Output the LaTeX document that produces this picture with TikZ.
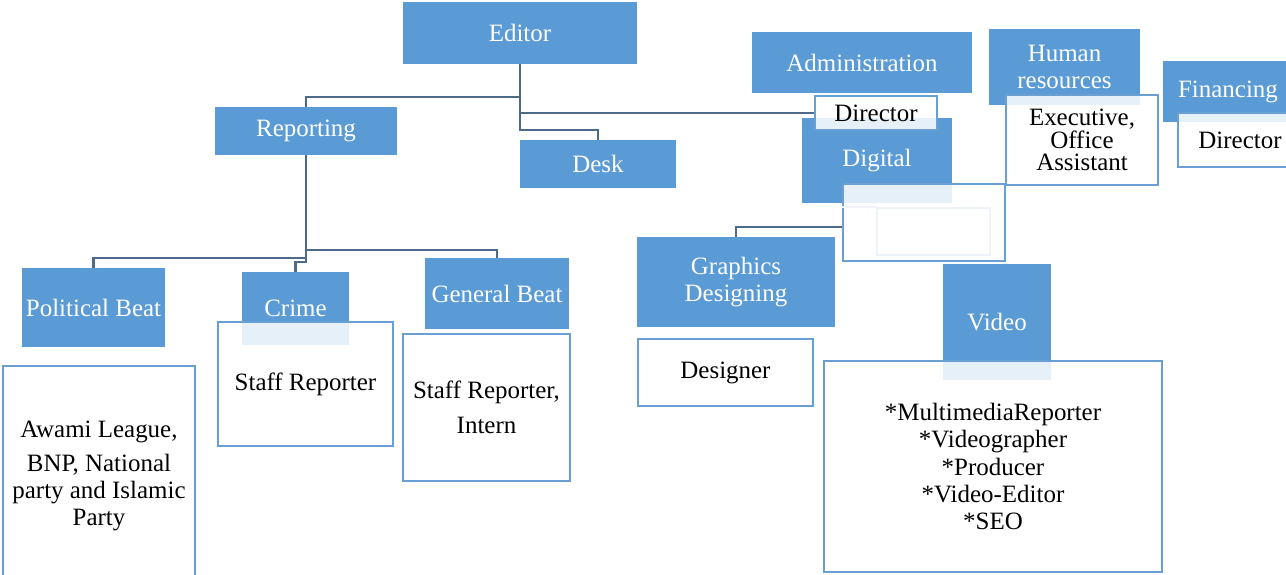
\documentclass[tikz,border=0pt]{standalone}
\usepackage{fontspec}
\setmainfont{Liberation Serif}
\definecolor{bfill}{HTML}{5B9BD5}
\definecolor{bedge}{HTML}{6A9FD3}
\definecolor{conncol}{HTML}{4D6A88}
\definecolor{faint}{HTML}{EEF3F9}
\tikzset{
  txt/.style={font=\fontsize{14.2}{15.4}\selectfont},
  bluebox/.style={rectangle, fill=bfill, draw=none, text=white, align=center, inner sep=0pt, txt},
  whitebox/.style={rectangle, fill=white, fill opacity=0.85, text opacity=1, draw=bedge, draw opacity=1, line width=1.1pt, text=black, align=center, inner sep=0pt, txt},
  connector/.style={draw=conncol, line width=1.3pt},
}
\newcommand{\obox}[7]{\node[#1, minimum width={(#5-#3)*0.02cm}, minimum height={(#6-#4)*0.02cm}] (#2) at ({(#3+#5)/2},{(#4+#6)/2}) {#7};}
\begin{document}
\begin{tikzpicture}[x={(0.02cm,0)}, y={(0,-0.02cm)}]
\clip (0,0) rectangle (1286,575);
\fill[white] (0,0) rectangle (1286,575);
% blue boxes
\obox{bluebox}{editor}{403}{2}{637}{64}{Editor}
\obox{bluebox}{reporting}{215}{107}{397}{155}{Reporting}
\obox{bluebox}{desk}{520}{140}{676}{188}{Desk}
\obox{bluebox}{admin}{752}{32}{972}{93}{Administration}
\obox{bluebox}{digital}{802}{118}{952}{203}{Digital}
\obox{bluebox}{hr}{989}{29}{1140}{105}{Human\\resources}
\obox{bluebox}{fin}{1163}{61}{1293}{122}{Financing}
\obox{bluebox}{political}{22}{268}{165}{347}{Political Beat}
\obox{bluebox}{crime}{242}{272}{349}{345}{Crime}
\obox{bluebox}{general}{425}{258}{569}{329}{General Beat}
\obox{bluebox}{graphics}{637}{237}{835}{327}{Graphics\\Designing}
\obox{bluebox}{video}{943}{264}{1051}{380}{Video}
% white boxes
\obox{whitebox}{dir1}{815}{96}{937}{130}{Director}
\obox{whitebox}{exec}{1006}{95}{1158}{185}{Executive,\\[-2.4pt]Office\\[-2.4pt]Assistant}
\obox{whitebox}{dir2}{1178}{113}{1302}{167}{Director}
\obox{whitebox}{digsub}{843}{184}{1005}{261}{}
\obox{whitebox}{awami}{3}{366}{195}{586}{Awami League,\\[3.5pt]BNP, National\\party and Islamic\\Party}
\obox{whitebox}{staff1}{218}{322}{393}{446}{Staff Reporter}
\obox{whitebox}{staff2}{403}{334}{570}{481}{Staff Reporter,\\[4.5pt]Intern}
\obox{whitebox}{designer}{638}{339}{813}{406}{Designer}
\obox{whitebox}{videolist}{824}{361}{1162}{572}{*MultimediaReporter\\{}*Videographer\\{}*Producer\\{}*Video-Editor\\{}*SEO}
% faint inner traces
\draw[faint, line width=0.8pt] (877,208) rectangle (990,255);
\draw[faint, line width=0.8pt] (digsub.west |- 0,207) -- (877,207);
% connectors
\draw[connector] (editor.south) -- (editor.south |- 0,130) -| (desk.north);
\draw[connector] (editor.south |- 0,97) -| (reporting.north);
\draw[connector] (editor.south |- dir1.west) -- (dir1.west);
\draw[connector] (reporting.south) -- (reporting.south |- 0,262) -| (crime.north);
\draw[connector] (reporting.south |- 0,258) -| (political.north);
\draw[connector] (reporting.south |- 0,250) -| (general.north);
\draw[connector] (digsub.west |- 0,227) -| (graphics.north);
\end{tikzpicture}
\end{document}
